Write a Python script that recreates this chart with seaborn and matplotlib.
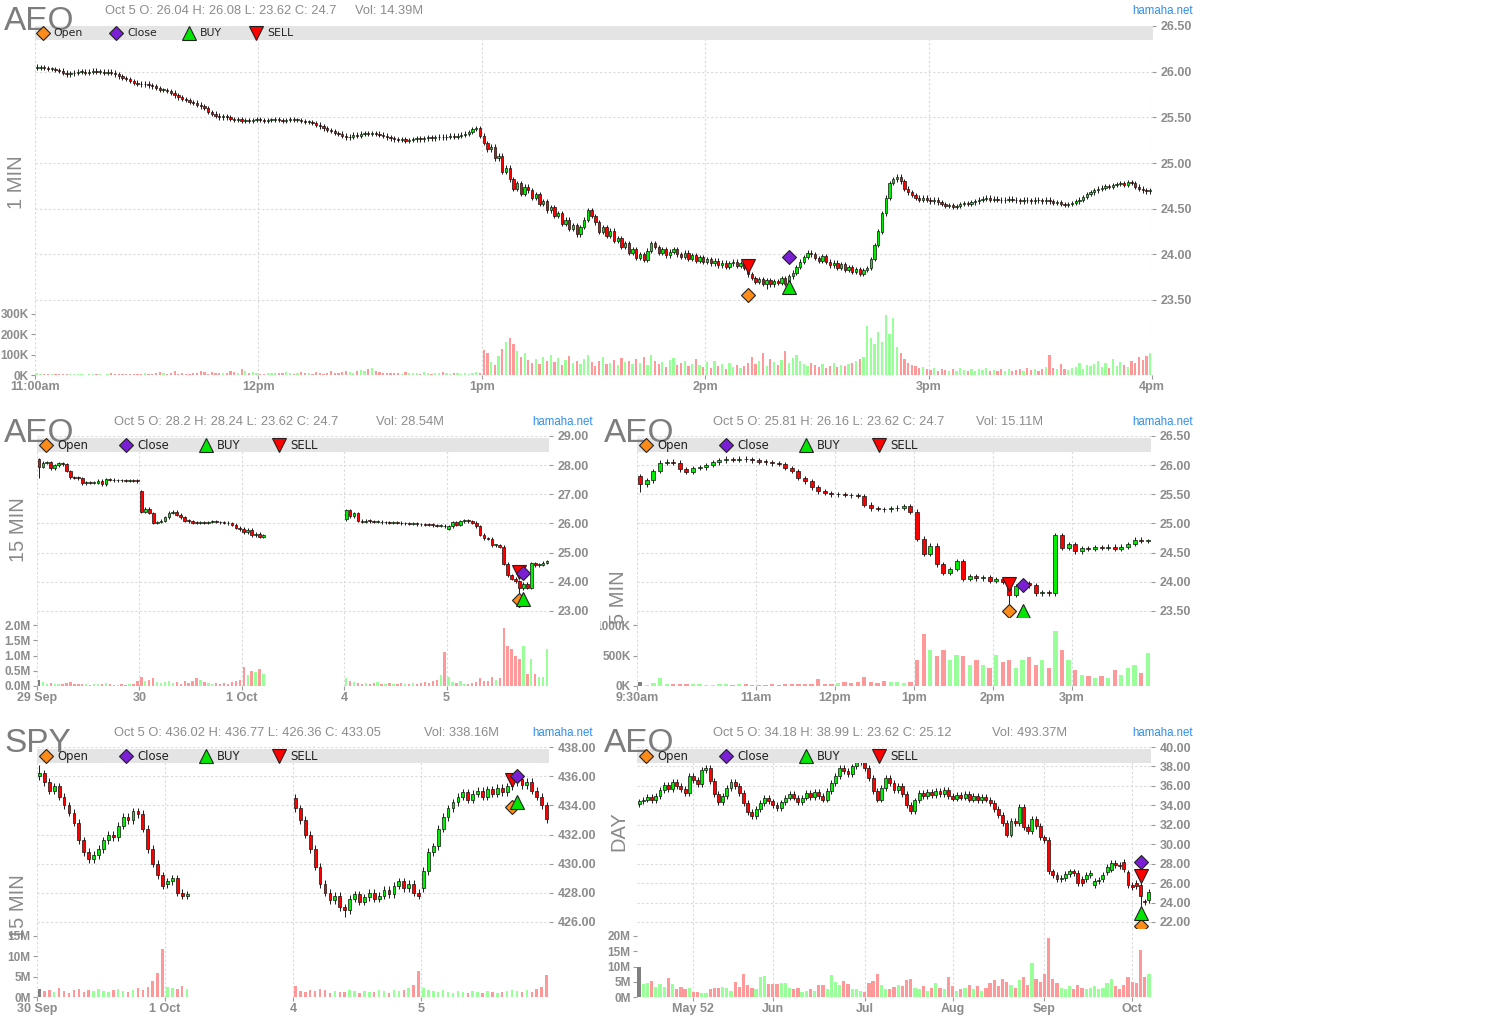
import numpy as np
import pandas as pd
import matplotlib
matplotlib.use("Agg")
import matplotlib.pyplot as plt
import seaborn as sns
from matplotlib.patches import Rectangle
from matplotlib.transforms import Bbox, TransformedBbox

# ======================= DATA =======================
# --- AEO 1 minute (Oct 5, 11:00am - 4pm) ---
m1_day_start = [0]
m1_day_open = [26.04]
m1_close = [[
    26.04, 26.05, 26.04, 26.03, 26.03, 26.02, 26.01,
    25.99, 25.97, 25.98,
    25.99, 26.00, 26.00, 25.99, 26.00, 26.01, 26.00, 26.00, 25.99, 26.00, 25.99,
    25.97, 25.95, 25.93, 25.92, 25.90,
    25.88, 25.87, 25.86, 25.87, 25.85, 25.84, 25.82,
    25.80, 25.80, 25.79, 25.77, 25.74, 25.72,
    25.70, 25.69, 25.67, 25.66, 25.64, 25.62, 25.60,
    25.56, 25.54, 25.52, 25.50, 25.51, 25.50, 25.48,
    25.47, 25.48, 25.46, 25.47, 25.46, 25.47, 25.48, 25.47, 25.46, 25.47, 25.47, 25.48, 25.47, 25.46, 25.47, 25.48, 25.47, 25.47,
    25.46, 25.45, 25.45, 25.44, 25.42, 25.40,
    25.38, 25.36, 25.35, 25.33, 25.32, 25.30, 25.28, 25.29,
    25.31, 25.30, 25.32, 25.33, 25.32, 25.33, 25.32, 25.31, 25.30, 25.28, 25.27,
    25.26, 25.25, 25.26, 25.24, 25.25, 25.26, 25.27, 25.26, 25.27, 25.28,
    25.27, 25.28, 25.29, 25.28, 25.29, 25.30, 25.29, 25.30, 25.31, 25.32, 25.34, 25.37,
    25.38, 25.30, 25.22,
    25.15, 25.18, 25.05, 25.08, 24.90, 24.95, 24.82,
    24.72, 24.78, 24.66, 24.74, 24.70,
    24.62, 24.66, 24.55, 24.58, 24.48, 24.52, 24.42, 24.45,
    24.33, 24.38, 24.28, 24.32, 24.22, 24.30, 24.38, 24.48, 24.42, 24.35,
    24.25, 24.30, 24.20, 24.26, 24.15, 24.18, 24.08, 24.12, 24.02, 24.06,
    23.96, 24.00, 23.94, 24.04, 24.12, 24.08, 24.02, 24.06, 23.99, 24.03,
    24.06, 24.00, 23.97, 24.02, 23.95, 23.99, 23.93, 23.97, 23.92, 23.95,
    23.90, 23.93, 23.88, 23.91, 23.86, 23.90, 23.92, 23.87, 23.90, 23.85,
    23.78, 23.74, 23.70, 23.73, 23.68, 23.72, 23.67, 23.71, 23.69, 23.74,
    23.68, 23.76, 23.80, 23.86, 23.92,
    23.97, 24.02, 24.00, 23.96, 23.93, 23.98, 23.92,
    23.88, 23.91, 23.85, 23.89, 23.83, 23.86, 23.81, 23.84, 23.79, 23.83,
    23.85, 23.95, 24.10,
    24.25, 24.45, 24.62, 24.78, 24.82, 24.85,
    24.80, 24.72, 24.68, 24.65, 24.62,
    24.60, 24.62, 24.60, 24.58, 24.60, 24.57, 24.55, 24.53, 24.54,
    24.52, 24.53, 24.55, 24.56, 24.55, 24.57, 24.58, 24.60, 24.61, 24.62,
    24.60, 24.61, 24.60, 24.59, 24.60, 24.61, 24.60, 24.59, 24.58, 24.60, 24.59, 24.58, 24.60, 24.59, 24.58,
    24.60, 24.58, 24.56, 24.57, 24.55, 24.54, 24.55, 24.56, 24.58, 24.60,
    24.63, 24.66, 24.68, 24.70, 24.72, 24.73, 24.75, 24.74, 24.76, 24.77,
    24.78, 24.76, 24.79, 24.78, 24.74, 24.72, 24.70, 24.69, 24.70]]
m1_vol = [[  # thousands
    8, 6, 5, 7, 4, 3, 6, 5, 4, 3, 4, 5, 3, 2, 6, 4, 5, 3, 2, 4,
    8, 6, 5, 7, 4, 5, 3, 6, 7, 12, 6, 4, 10, 14, 8, 5, 12, 18, 6, 9,
    7, 5, 8, 12, 20, 14, 6, 15, 10, 8, 12, 9, 22, 16, 11, 30, 18, 10, 14, 8,
    6, 5, 9, 12, 10, 11, 8, 14, 12, 7, 10, 16, 12, 8, 6, 14, 10, 7, 9, 18,
    9, 12, 15, 20, 14, 10, 18, 24, 20, 30, 35, 22, 14, 10, 8, 9, 12, 10, 7, 13,
    12, 9, 11, 6, 16, 8, 7, 10, 9, 14, 8, 6, 10, 12, 7, 9, 6, 8, 14, 9,
    125, 110, 62, 48, 95, 130, 160, 180, 150, 120, 90, 110, 75,
    60, 80, 55, 90, 70, 100, 65, 85, 50, 75, 95, 60, 70, 55, 80, 100, 65, 45, 70, 90, 55, 60, 75, 50, 85, 65, 70, 55,
    80, 60, 90, 50, 100, 70, 55, 65, 40, 75, 85, 50, 60, 70, 45, 55, 80, 50, 40, 65, 35, 70, 45, 55, 30, 60, 40, 50, 35, 45,
    60, 90, 55, 70, 110, 45, 80, 65, 50, 75, 120, 60, 85, 100, 70, 55, 45, 60, 50, 40, 55, 35, 45, 60, 40, 50, 45, 55, 60, 70, 80, 90,
    240, 180, 150, 210, 160, 295, 200, 280, 140, 110, 80, 60, 50,
    45, 35, 40, 30, 25, 35, 20, 30, 25, 20, 30, 22, 35, 25, 20, 28, 22, 30, 25, 35, 20, 25, 18, 30, 22, 28, 20, 25, 30, 22, 35, 25, 28, 20, 30,
    40, 100, 35, 28, 55, 30, 25, 35, 40, 60, 30, 50, 45, 55, 70, 40, 60, 35, 80, 45, 65, 50, 40, 70, 60, 90, 75, 95, 110]]
m1_extremes = [(0, 'hi', 26.08), (196, 'lo', 23.62)]
m1_ticks = [0, 60, 120, 180, 240, 300]
m1_ticklabels = ['11:00am', '12pm', '1pm', '2pm', '3pm', '4pm']
m1_mark_idx = [191, 191, 202, 202]
m1_mark_price = [23.56, 23.87, 23.97, 23.64]
m1_mark_kind = ['Open', 'SELL', 'Close', 'BUY']

# --- AEO 15 minute (Sep 29 - Oct 5) ---
a15_day_start = [0, 26, 52, 78, 104]
a15_day_open = [28.20, 27.10, 25.82, 26.15, 25.81]
a15_close = [
    [27.95, 28.08, 28.10, 27.90, 28.00, 28.06, 28.03, 27.80, 27.58, 27.57, 27.55, 27.38, 27.40,
     27.39, 27.39, 27.46, 27.34, 27.52, 27.50, 27.48, 27.49, 27.48, 27.47, 27.48, 27.46, 27.45],
    [26.40, 26.50, 26.36, 26.02, 26.05, 26.10, 26.22, 26.37, 26.40, 26.30, 26.22, 26.10, 26.08,
     26.03, 26.02, 26.04, 26.03, 26.05, 26.06, 26.05, 26.04, 26.03, 26.00, 25.95, 25.85, 25.80],
    [25.70, 25.78, 25.60, 25.65, 25.55, 25.60],
    [26.45, 26.25, 26.35, 26.10, 26.05, 26.10, 26.08, 26.05, 26.06, 26.04, 26.05, 26.03, 26.04,
     26.02, 26.00, 26.01, 25.99, 26.00, 25.98, 25.97, 25.96, 25.95, 25.94, 25.92, 25.93, 25.90],
    [25.90, 26.04, 25.95, 26.08, 26.09, 26.08, 26.03, 25.90, 25.62, 25.50, 25.48, 25.26, 25.26,
     25.20, 24.62, 24.22, 24.10, 24.02, 23.78, 23.94, 23.80, 24.64, 24.57, 24.58, 24.65, 24.70]]
a15_vol = [  # millions
    [0.20, 0.12, 0.08, 0.10, 0.06, 0.07, 0.05, 0.10, 0.12, 0.06, 0.05, 0.08, 0.05,
     0.04, 0.05, 0.06, 0.07, 0.09, 0.05, 0.04, 0.04, 0.05, 0.04, 0.06, 0.08, 0.15],
    [0.30, 0.18, 0.20, 0.25, 0.12, 0.10, 0.14, 0.16, 0.10, 0.12, 0.08, 0.15, 0.10,
     0.18, 0.25, 0.20, 0.12, 0.10, 0.08, 0.10, 0.07, 0.09, 0.08, 0.12, 0.15, 0.20],
    [0.62, 0.35, 0.50, 0.45, 0.55, 0.40],
    [0.25, 0.15, 0.12, 0.10, 0.08, 0.10, 0.07, 0.09, 0.12, 0.08, 0.06, 0.10, 0.08,
     0.07, 0.09, 0.06, 0.08, 0.10, 0.07, 0.09, 0.12, 0.10, 0.15, 0.20, 0.35, 1.10],
    [0.30, 0.12, 0.10, 0.15, 0.08, 0.07, 0.10, 0.12, 0.25, 0.15, 0.18, 0.30, 0.20,
     0.25, 1.90, 1.30, 1.20, 1.00, 0.90, 1.30, 0.40, 0.90, 0.40, 0.30, 0.30, 1.20]]
a15_extremes = [(0, 'hi', 28.24), (0, 'lo', 27.55), (122, 'lo', 23.62)]
a15_ticks = [0, 26, 52, 78, 104]
a15_ticklabels = ['29 Sep', '30', '1 Oct', '4', '5']
a15_mark_idx = [122, 122, 123, 123]
a15_mark_price = [23.38, 24.33, 24.30, 23.40]
a15_mark_kind = ['Open', 'SELL', 'Close', 'BUY']

# --- AEO 5 minute (Oct 5) ---
m5_day_start = [0]
m5_day_open = [25.81]
m5_close = [[
    25.67, 25.74, 25.90, 26.04, 26.06, 26.04, 25.93, 25.88, 25.95, 25.96,
    26.00, 26.05, 26.08, 26.10, 26.09, 26.11, 26.10, 26.08, 26.06, 26.05,
    26.03, 26.02, 25.95, 25.90, 25.78, 25.72, 25.62, 25.55, 25.52, 25.50,
    25.50, 25.49, 25.48, 25.47, 25.32, 25.26, 25.25, 25.24, 25.26, 25.27,
    25.30, 25.20, 24.74, 24.48, 24.62, 24.30, 24.15, 24.22, 24.35, 24.05,
    24.10, 24.06, 24.08, 24.02, 24.05, 24.00, 23.78, 23.92, 23.98, 23.94,
    23.80, 23.82, 23.80, 24.80, 24.58, 24.64, 24.52, 24.58, 24.57, 24.59,
    24.58, 24.60, 24.57, 24.60, 24.65, 24.72, 24.70, 24.70]]
m5_vol = [[  # thousands
    65, 20, 55, 130, 30, 35, 40, 25, 35, 30,
    20, 15, 30, 25, 20, 30, 25, 20, 20, 15,
    25, 20, 25, 30, 35, 30, 25, 110, 30, 35,
    45, 60, 50, 70, 140, 60, 45, 80, 70, 60,
    50, 60, 420, 850, 590, 500, 590, 430, 510, 490,
    350, 430, 350, 300, 510, 390, 430, 300, 430, 480,
    350, 430, 300, 900, 590, 430, 260, 180, 160, 130,
    160, 130, 260, 180, 300, 350, 210, 540]]
m5_extremes = [(0, 'lo', 25.54), (13, 'hi', 26.16), (56, 'lo', 23.62)]
m5_ticks = [0, 18, 30, 42, 54, 66]
m5_ticklabels = ['9:30am', '11am', '12pm', '1pm', '2pm', '3pm']
m5_mark_idx = [56, 56, 58, 58]
m5_mark_price = [23.50, 23.96, 23.95, 23.50]
m5_mark_kind = ['Open', 'SELL', 'Close', 'BUY']

# --- SPY 15 minute (Sep 30 - Oct 5) ---
s15_day_start = [0, 26, 52, 78]
s15_day_open = [436.02, 428.60, 434.50, 428.30]
s15_close = [
    [436.2, 435.6, 435.0, 435.3, 434.6, 434.0, 433.5, 432.8, 431.6, 430.8, 430.3, 430.6, 431.0,
     431.6, 432.0, 431.8, 432.6, 433.2, 433.0, 433.6, 433.4, 432.4, 431.0, 430.0, 429.2, 428.5],
    [428.8, 429.0, 428.0, 427.8, 427.9],
    [433.8, 433.0, 432.0, 431.0, 429.8, 428.6, 428.0, 427.5, 427.8, 427.0, 426.8, 427.6, 427.9,
     427.4, 427.7, 428.0, 427.6, 427.8, 428.2, 427.9, 428.5, 428.8, 428.3, 428.6, 428.0, 427.8],
    [429.5, 430.8, 431.2, 432.4, 433.2, 433.8, 434.2, 434.6, 434.9, 434.4, 434.8, 435.0, 434.6,
     435.1, 434.8, 435.2, 434.9, 435.3, 435.6, 435.8, 435.4, 435.6, 435.0, 434.6, 434.0, 433.05]]
s15_vol = [  # millions
    [2.0, 1.5, 1.8, 1.2, 2.2, 1.5, 1.0, 1.8, 2.0, 1.3, 1.6, 1.4, 2.0,
     1.5, 1.2, 1.7, 1.9, 1.4, 1.3, 1.8, 2.1, 1.6, 2.5, 3.9, 6.0, 11.7],
    [2.5, 2.2, 1.9, 2.6, 2.0],
    [2.8, 1.5, 1.2, 1.8, 1.4, 2.0, 1.6, 1.1, 1.5, 1.3, 1.2, 1.6, 1.4,
     1.0, 1.5, 1.3, 1.2, 1.7, 1.4, 1.1, 1.6, 1.5, 1.8, 2.2, 3.0, 6.5],
    [2.2, 1.8, 1.5, 1.2, 1.6, 1.3, 1.1, 1.4, 1.2, 1.0, 1.5, 1.3, 1.1,
     1.4, 1.2, 1.0, 1.3, 1.5, 1.8, 1.4, 1.2, 1.6, 1.3, 1.9, 2.5, 5.5]]
s15_extremes = [(0, 'hi', 436.77), (62, 'lo', 426.36)]
s15_ticks = [0, 26, 52, 78]
s15_ticklabels = ['30 Sep', '1 Oct', '4', '5']
s15_mark_idx = [96, 96, 97, 97]
s15_mark_price = [433.89, 435.74, 436.01, 434.23]
s15_mark_kind = ['Open', 'SELL', 'Close', 'BUY']

# --- AEO daily ---
d_close = [
    34.40, 34.60, 34.85, 34.50, 35.00, 35.60, 36.10, 35.70, 36.40, 36.00,
    35.70, 35.30, 37.00, 36.60, 36.20, 37.60, 37.80, 36.50, 35.20, 34.30,
    35.00, 35.80, 36.40, 36.00, 35.30, 34.20, 33.30, 32.90, 33.60, 34.20,
    34.80, 34.40, 34.00, 33.70, 34.30, 34.80, 35.20, 34.80, 34.30, 34.80,
    35.30, 34.90, 35.40, 35.00, 34.60, 35.50, 36.30, 37.00, 37.80, 37.50,
    37.20, 38.00, 38.50, 38.70, 37.80, 36.80, 35.50, 34.60, 35.80, 36.80,
    36.30, 35.60,
    36.00, 35.20, 34.00, 33.40, 34.50, 35.30, 35.00, 35.40, 35.10, 35.50,
    35.20, 35.60, 35.00, 34.70, 35.10, 34.80, 35.20, 34.60, 35.00, 34.50,
    34.90, 34.60, 34.20, 33.60, 33.00, 32.20, 31.00, 32.40, 32.20, 33.80,
    31.80, 31.40, 32.60, 31.90, 30.70, 30.40, 27.20,
    26.80, 26.40, 26.50, 26.90, 27.20, 27.00, 26.00, 26.00, 26.80, 27.00,
    26.20, 26.35, 26.80, 27.70, 28.10, 27.85, 27.80, 27.45, 25.80, 25.60,
    25.70, 24.70, 24.05, 25.10]
d_gap_idx = [0, 106, 107, 109, 111, 112, 113, 116, 117, 118, 119, 120, 121, 122]
d_gap_open = [34.18, 26.40, 26.40, 25.80, 26.40, 27.10, 27.40, 28.20, 27.10, 25.82, 26.00, 25.81, 24.10, 24.30]
d_vol = [  # millions
    9.7, 4.1, 4.6, 5.4, 3.3, 4.1, 3.3, 6.3, 4.1, 2.5,
    3.3, 2.5, 3.0, 1.8, 1.8, 1.4, 1.4, 2.5, 3.1, 3.1,
    3.3, 2.8, 2.1, 5.0, 3.3, 7.6, 3.8, 3.1, 2.5, 6.6,
    7.0, 4.1, 4.3, 4.1, 4.6, 4.6, 2.8, 2.5, 2.8, 1.6,
    2.1, 2.5, 2.1, 3.8, 3.8, 2.5, 7.2, 5.0, 3.8, 5.4,
    4.4, 2.7, 2.5, 2.1, 1.5, 4.7, 5.1, 7.6, 3.8, 2.5,
    2.5, 3.3,
    4.0, 3.5, 5.5, 6.0, 3.0, 2.5, 3.5, 2.0, 2.8, 4.5,
    3.0, 2.5, 6.5, 3.5, 2.0, 2.5, 3.0, 4.0, 2.5, 3.5,
    2.0, 3.0, 4.5, 5.5, 3.5, 6.0, 5.0, 4.0, 3.0, 5.5,
    6.5, 4.0, 11.0, 6.0, 5.0, 7.5, 19.5,
    6.0, 4.5, 3.0, 2.5, 3.5, 2.5, 4.0, 3.0, 2.5, 3.0,
    3.5, 2.5, 3.0, 4.5, 6.0, 3.5, 2.5, 4.0, 6.5, 5.0,
    4.5, 15.5, 6.5, 7.5]
d_extremes = [(53, 'hi', 38.99), (120, 'hi', 26.16), (120, 'lo', 23.62)]
d_ticks = [13, 32, 54, 75, 97, 118]
d_ticklabels = ['May 52', 'Jun', 'Jul', 'Aug', 'Sep', 'Oct']
d_mark_idx = [120, 120, 120, 120]
d_mark_price = [21.59, 26.73, 28.17, 22.93]
d_mark_kind = ['Open', 'SELL', 'Close', 'BUY']

# panel header texts
titles = {
    'A': ("Oct 5 O: 26.04 H: 26.08 L: 23.62 C: 24.7", "Vol: 14.39M"),
    'B': ("Oct 5 O: 28.2 H: 28.24 L: 23.62 C: 24.7", "Vol: 28.54M"),
    'C': ("Oct 5 O: 25.81 H: 26.16 L: 23.62 C: 24.7", "Vol: 15.11M"),
    'D': ("Oct 5 O: 436.02 H: 436.77 L: 426.36 C: 433.05", "Vol: 338.16M"),
    'E': ("Oct 5 O: 34.18 H: 38.99 L: 23.62 C: 25.12", "Vol: 493.37M"),
}
symbols = {'A': 'AEO', 'B': 'AEO', 'C': 'AEO', 'D': 'SPY', 'E': 'AEO'}
periods = {'A': '1 MIN', 'B': '15 MIN', 'C': '5 MIN', 'D': '15 MIN', 'E': 'DAY'}
legend_kinds = ['Open', 'Close', 'BUY', 'SELL']

# ======================= STYLE =======================
sns.set_theme(style="white")
plt.rcParams['font.family'] = ['Liberation Sans', 'DejaVu Sans']

W, H = 1500, 1033
fig = plt.figure(figsize=(W / 100, H / 100), dpi=100)
fig.patch.set_facecolor('white')

UP, DN = '#00ee00', '#ff0000'
VUP, VDN = '#99ff99', '#ff9999'
TICKC = '#8c8c8c'
GRID = dict(color='#dadada', linestyle=(0, (2, 2)), linewidth=0.8, zorder=0)
MK = {
    'Open': dict(marker='D', mfc='#ff8c1a', ms=7),
    'Close': dict(marker='D', mfc='#7a1fd6', ms=7),
    'BUY': dict(marker='^', mfc='#00e600', ms=10),
    'SELL': dict(marker='v', mfc='#ff0000', ms=10),
}


def px_axes(x0, y0, x1, y1):
    ax = fig.add_axes([x0 / W, 1 - y1 / H, (x1 - x0) / W, (y1 - y0) / H])
    ax.set_facecolor('white')
    for s in ax.spines.values():
        s.set_visible(False)
    return ax


def lin_lim(v1, p1, v2, p2, top, bot):
    f = lambda p: v1 + (p - p1) * (v2 - v1) / (p2 - p1)
    return f(bot), f(top)


def build(starts, opens, closes, vols):
    pos, o, c, v = [], [], [], []
    for s, op, cl, vl in zip(starts, opens, closes, vols):
        prev = op
        for k, val in enumerate(cl):
            pos.append(s + k)
            o.append(prev)
            c.append(val)
            v.append(vl[k])
            prev = val
    return np.array(pos, float), np.array(o), np.array(c), np.array(v, float)


def draw_panel(box_p, box_v, idx, o, c, vol, extremes, ext, body_w, vol_w,
               xlim, ticks, ticklabels, offset,
               p_ref, v_ref, p_ticks, v_ticks, v_labels,
               mark_idx, mark_price, mark_kind, first_grey=False):
    axp = px_axes(*box_p)
    axv = px_axes(*box_v)
    x = idx + offset
    hi = np.maximum(o, c) + ext
    lo = np.minimum(o, c) - ext
    pos_of = {int(k): n for n, k in enumerate(idx)}
    for (k, kind, val) in extremes:
        n = pos_of[k]
        if kind == 'hi':
            hi[n] = val
        else:
            lo[n] = val
    ylim_p = lin_lim(p_ref[0], p_ref[1], p_ref[2], p_ref[3], box_p[1], box_p[3])
    ylim_v = lin_lim(0, v_ref[1], v_ref[2], v_ref[3], box_v[1], box_v[3])
    min_h = (ylim_p[1] - ylim_p[0]) / (box_p[3] - box_p[1]) * 0.8

    for t in p_ticks:
        axp.axhline(t, **GRID)
    for t in ticks:
        axp.axvline(t, **GRID)
        axv.axvline(t, **GRID)

    up = c >= o
    bot = np.minimum(o, c)
    hgt = np.maximum(np.abs(c - o), min_h)
    axp.vlines(x, lo, hi, colors='#1a1a1a', linewidth=0.7, zorder=2)
    axp.bar(x[up], hgt[up], width=body_w, bottom=bot[up], color=UP,
            edgecolor='#111111', linewidth=0.5, zorder=3)
    axp.bar(x[~up], hgt[~up], width=body_w, bottom=bot[~up], color=DN,
            edgecolor='#111111', linewidth=0.5, zorder=3)

    for k, pr, kind in zip(mark_idx, mark_price, mark_kind):
        st = MK[kind]
        axp.plot([k + offset], [pr], linestyle='none', marker=st['marker'],
                 markersize=st['ms'], markerfacecolor=st['mfc'],
                 markeredgecolor='#222222', markeredgewidth=0.8, zorder=6)

    direction = np.where(up, 'up', 'down').astype(object)
    if first_grey:
        direction[0] = 'first'
    df = pd.DataFrame({'x': x, 'vol': vol, 'dir': direction})
    sns.barplot(data=df, x='x', y='vol', hue='dir',
                palette={'up': VUP, 'down': VDN, 'first': '#808080'},
                native_scale=True, width=vol_w, dodge=False, legend=False,
                errorbar=None, saturation=1, linewidth=0, ax=axv, zorder=2)
    axv.set_xlabel('')
    axv.set_ylabel('')

    for ax in (axp, axv):
        ax.set_xlim(*xlim)
    axp.set_ylim(*ylim_p)
    axv.set_ylim(*ylim_v)

    axp.yaxis.tick_right()
    axp.set_yticks(p_ticks)
    axp.set_yticklabels(['%.2f' % t for t in p_ticks], fontweight='bold')
    axp.tick_params(axis='y', which='both', right=True, left=False, length=3,
                    width=0.8, color='#999999', pad=3, labelsize=9, labelcolor=TICKC)
    axp.set_xticks(ticks)
    axp.tick_params(axis='x', bottom=False, labelbottom=False)

    axv.set_yticks(v_ticks)
    labs = axv.set_yticklabels(v_labels, fontweight='bold')
    axv.tick_params(axis='y', left=True, right=False, length=3, width=0.8,
                    color='#999999', pad=1.5, labelsize=8.5, labelcolor=TICKC)
    axv.set_xticks(ticks)
    axv.set_xticklabels(ticklabels, fontweight='bold')
    axv.tick_params(axis='x', bottom=True, length=3, width=0.8, color='#999999',
                    pad=1.5, labelsize=9, labelcolor=TICKC)
    return axp, axv, labs


# ---------- Panel A: 1 min ----------
idx, o, c, v = build(m1_day_start, m1_day_open, m1_close, m1_vol)
draw_panel((35, 26, 1152, 307), (35, 307, 1152, 375), idx, o, c, v, m1_extremes,
           0.025, 0.62, 0.6, (0, 300), m1_ticks, m1_ticklabels, 0.5,
           (26.5, 26, 23.5, 300), (0, 375, 300, 314),
           [23.5, 24.0, 24.5, 25.0, 25.5, 26.0, 26.5], [0, 100, 200, 300],
           ['0K', '100K', '200K', '300K'],
           m1_mark_idx, m1_mark_price, m1_mark_kind)

# ---------- Panel B: AEO 15 min ----------
idx, o, c, v = build(a15_day_start, a15_day_open, a15_close, a15_vol)
draw_panel((37, 436, 549, 618), (37, 618, 549, 686), idx, o, c, v, a15_extremes,
           0.05, 0.7, 0.6, (0, 130), a15_ticks, a15_ticklabels, 0.5,
           (29.0, 436, 23.0, 611), (0, 686, 2.0, 625),
           [23, 24, 25, 26, 27, 28, 29], [0, 0.5, 1.0, 1.5, 2.0],
           ['0.0M', '0.5M', '1.0M', '1.5M', '2.0M'],
           a15_mark_idx, a15_mark_price, a15_mark_kind, first_grey=True)

# ---------- Panel C: AEO 5 min ----------
idx, o, c, v = build(m5_day_start, m5_day_open, m5_close, m5_vol)
_, _, labs = draw_panel((637, 436, 1151, 618), (637, 618, 1151, 686), idx, o, c, v,
                        m5_extremes, 0.04, 0.6, 0.65, (0, 78), m5_ticks, m5_ticklabels, 0.5,
                        (26.5, 436, 23.5, 611), (0, 686, 1000, 625),
                        [23.5, 24.0, 24.5, 25.0, 25.5, 26.0, 26.5], [0, 500, 1000],
                        ['0K', '500K', '1000K'],
                        m5_mark_idx, m5_mark_price, m5_mark_kind, first_grey=True)
clip = TransformedBbox(Bbox.from_extents(600 / W, 0, 1, 1), fig.transFigure)
for lab in labs:
    lab.set_clip_on(True)
    lab.set_clip_box(clip)

# ---------- Panel D: SPY 15 min ----------
idx, o, c, v = build(s15_day_start, s15_day_open, s15_close, s15_vol)
draw_panel((37, 747, 549, 929), (37, 929, 549, 997), idx, o, c, v, s15_extremes,
           0.25, 0.55, 0.5, (0, 104), s15_ticks, s15_ticklabels, 0.5,
           (438, 747, 426, 922), (0, 997, 15, 936),
           [426, 428, 430, 432, 434, 436, 438], [0, 5, 10, 15],
           ['0M', '5M', '10M', '15M'],
           s15_mark_idx, s15_mark_price, s15_mark_kind, first_grey=True)

# ---------- Panel E: AEO daily ----------
d_open = [d_close[i - 1] if i > 0 else d_close[0] for i in range(len(d_close))]
for gi, go in zip(d_gap_idx, d_gap_open):
    d_open[gi] = go
d_idx = np.arange(len(d_close), dtype=float)
draw_panel((637, 747, 1151, 929), (637, 929, 1151, 997), d_idx, np.array(d_open),
           np.array(d_close), np.array(d_vol), d_extremes,
           0.3, 0.7, 0.78, (-0.5, 122.5), d_ticks, d_ticklabels, 0.0,
           (40, 747, 22, 922), (0, 997, 20, 936),
           [22, 24, 26, 28, 30, 32, 34, 36, 38, 40], [0, 5, 10, 15, 20],
           ['0M', '5M', '10M', '15M', '20M'],
           d_mark_idx, d_mark_price, d_mark_kind, first_grey=True)

# ======================= OVERLAY (texts, legend bands) =======================
ov = fig.add_axes([0, 0, 1, 1])
ov.set_xlim(0, W)
ov.set_ylim(H, 0)
ov.axis('off')
ov.patch.set_alpha(0)

layout = {
    'A': ((35, 26, 1153, 40), (4, 21), (17, 182), (105, 11), 355, (1193, 11), [43, 116, 189, 256], [53, 127, 200, 267], 33, 7.8),
    'B': ((37, 438, 549, 452), (4, 433), (18, 530), (114, 422), 376, (593, 422), [46, 126, 206, 279], [57, 137, 217, 290], 445, 8.4),
    'C': ((637, 438, 1151, 452), (604, 433), (619, 597), (713, 422), 976, (1193, 422), [646, 726, 806, 879], [657, 737, 817, 890], 445, 8.4),
    'D': ((37, 749, 549, 763), (4, 744), (18, 907), (114, 733), 424, (593, 733), [46, 126, 206, 279], [57, 137, 217, 290], 756, 8.4),
    'E': ((637, 749, 1151, 763), (604, 744), (619, 831), (713, 733), 992, (1193, 733), [646, 726, 806, 879], [657, 737, 817, 890], 756, 8.4),
}

for key, (band, sym_xy, per_xy, tit_xy, volx, ham_xy, mxs, txs, ly, lfs) in layout.items():
    ov.add_patch(Rectangle((band[0], band[1]), band[2] - band[0], band[3] - band[1],
                           facecolor='#e4e4e4', edgecolor='none', zorder=1))
    ov.text(sym_xy[0], sym_xy[1], symbols[key], fontsize=24, color='#7d7d7d',
            family=['Liberation Sans Narrow', 'Liberation Sans'], ha='left', va='center', zorder=2)
    ov.text(per_xy[0], per_xy[1], periods[key], fontsize=14.5, color='#8a8a8a',
            rotation=90, ha='center', va='center', zorder=2)
    ov.text(tit_xy[0], tit_xy[1], titles[key][0], fontsize=9.3, color='#8c8c8c',
            ha='left', va='center', zorder=2)
    ov.text(volx, tit_xy[1], titles[key][1], fontsize=9.3, color='#8c8c8c',
            ha='left', va='center', zorder=2)
    ov.text(ham_xy[0], ham_xy[1], 'hamaha.net', fontsize=8.3, color='#2f8fe8',
            ha='right', va='center', zorder=2)
    for mx, tx, kind in zip(mxs, txs, legend_kinds):
        st = MK[kind]
        ov.plot([mx], [ly], linestyle='none', marker=st['marker'], markersize=st['ms'],
                markerfacecolor=st['mfc'], markeredgecolor='#222222',
                markeredgewidth=0.8, zorder=3)
        ov.text(tx, ly + 0.5, kind, fontsize=lfs, color='#222222', family='DejaVu Sans',
                ha='left', va='center', zorder=3)

fig.savefig('out.png', dpi=100, facecolor='white')
